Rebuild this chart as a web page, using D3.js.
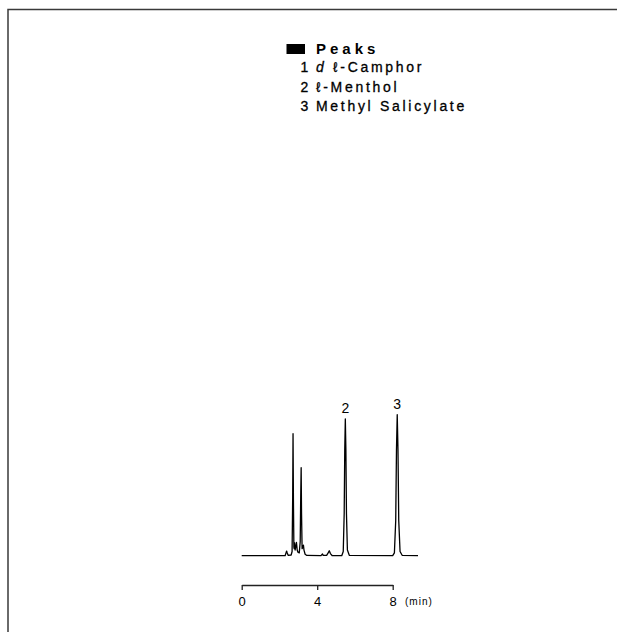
<!DOCTYPE html>
<html><head><meta charset="utf-8">
<script src="https://cdn.jsdelivr.net/npm/d3@7"></script>
<style>body{margin:0;background:#fff}svg{display:block}</style>
</head><body><svg id="c" width="617" height="632"></svg>
<script>
// Chromatogram trace vertices (time in min, relative signal)
const traceTime   = [0, 2.30, 2.36, 2.38, 2.40, 2.46, 2.62, 2.67, 2.70, 2.72, 2.74, 2.765, 2.78, 2.80, 2.83, 2.86, 2.90, 2.94, 2.98, 3.05, 3.10, 3.13, 3.15, 3.17, 3.20, 3.24, 3.27, 3.30, 3.36, 3.45, 4.20, 4.26, 4.28, 4.32, 4.50, 4.58, 4.64, 4.70, 4.80, 5.30, 5.38, 5.43, 5.46, 5.49, 5.52, 5.55, 5.60, 5.70, 8.00, 8.09, 8.16, 8.20, 8.24, 8.28, 8.32, 8.39, 8.50, 9.34];
const traceSignal = [0, 0,    2.5,  3.3,  2.5,  0.3,  0.5,  3,    40,   86.5, 40,   6,     5,    9,    4,    6,    9.5,  4,    2.5,  2,    10,   45,   62.4, 30,   5,    6,    7.5,  4,    1,    0.2,  0,    1,    1.2,  0.2,  0.2,  2,    3.5,  1.5,  0,    0,    3,    30,   75,   97,   75,   30,   4,    0.3,  0,    2,    25,   75,   100,  75,   25,   3,    0.3,  0];
const peakLabels = ["2", "3"];
const peakLabelTimes = [5.49, 8.24];
const peakLabelSignals = [97, 100];
const axisTicks = [0, 4, 8];
const axisUnit = "(min)";
const legendTitle = "Peaks";
const legendNumbers = ["1", "2", "3"];
const legendNames = [["d", "ℓ-Camphor"], ["", "ℓ-Menthol"], ["", "Methyl Salicylate"]];

const svg = d3.select("#c");
const font = "'Liberation Sans', Arial, sans-serif";

// frame
svg.append("path").attr("d", "M8,632V9.5H617").attr("fill", "none")
  .attr("stroke", "#3a3a3a").attr("stroke-width", 1.5);

const x = d3.scaleLinear().domain([0, 8]).range([241.7, 392.7]);
const y = d3.scaleLinear().domain([0, 100]).range([555.7, 414.7]);

const pts = traceTime.map((t, i) => [t, traceSignal[i]]);
svg.append("path").datum(pts)
  .attr("d", d3.line().x(d => x(d[0])).y(d => y(d[1])))
  .attr("fill", "none").attr("stroke", "#000").attr("stroke-width", 1.3)
  .attr("stroke-linejoin", "round");

svg.selectAll("text.pk").data(peakLabels).join("text").attr("class", "pk")
  .attr("x", (d, i) => x(peakLabelTimes[i]))
  .attr("y", (d, i) => y(peakLabelSignals[i]) - 6)
  .attr("text-anchor", "middle").attr("font-family", font).attr("font-size", 14)
  .text(d => d);

// axis
const ax = svg.append("g").attr("transform", "translate(0,585)")
  .call(d3.axisBottom(x).tickValues(axisTicks).tickSize(5).tickSizeOuter(0).tickPadding(7).tickFormat(d3.format("d")));
ax.select(".domain").attr("stroke", "#222").attr("stroke-width", 1.3);
ax.selectAll(".tick line").attr("stroke", "#222").attr("stroke-width", 1.3);
ax.selectAll(".tick text").attr("font-family", font).attr("font-size", 13).attr("fill", "#000");
svg.append("text").attr("x", 405).attr("y", 605).attr("font-family", font)
  .attr("font-size", 10).attr("letter-spacing", 1).text(axisUnit);

// legend
svg.append("rect").attr("x", 286.5).attr("y", 44).attr("width", 18.5).attr("height", 10).attr("fill", "#000");
svg.append("text").attr("x", 316).attr("y", 53.5).attr("font-family", font)
  .attr("font-size", 15).attr("font-weight", "bold").attr("letter-spacing", 4).text(legendTitle);
const rowsY = [72, 91.5, 111];
legendNumbers.forEach((n, i) => {
  svg.append("text").attr("x", 304.5).attr("y", rowsY[i]).attr("font-family", font)
    .attr("text-anchor", "middle").attr("font-size", 14)
    .attr("stroke", "#000").attr("stroke-width", 0.3).text(n);
  const t = svg.append("text").attr("x", 316).attr("y", rowsY[i]).attr("font-family", font)
    .attr("font-size", 14).attr("letter-spacing", 2.7)
    .attr("stroke", "#000").attr("stroke-width", 0.3);
  if (legendNames[i][0]) t.append("tspan").attr("font-style", "italic").text(legendNames[i][0] + " ");
  t.append("tspan").text(legendNames[i][1]);
});
</script></body></html>
